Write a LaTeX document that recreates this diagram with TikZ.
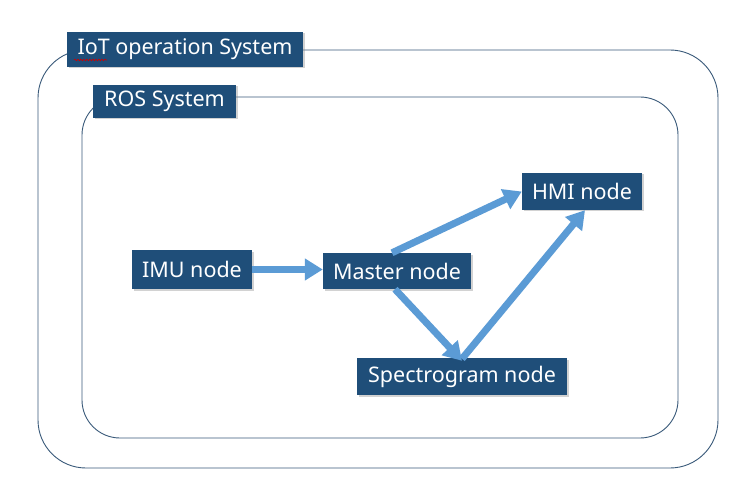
\documentclass[tikz,border=0pt]{standalone}
\usepackage{fontspec}
\setmainfont{Noto Sans}
\usetikzlibrary{arrows.meta,shadows,decorations.pathmorphing,calc}
\definecolor{boxblue}{HTML}{1F4E79}
\definecolor{arrowblue}{HTML}{5B9BD5}
\definecolor{frameblue}{HTML}{3A5A7A}
\begin{document}
\begin{tikzpicture}[x=1pt,y=-1pt,
  lbl/.style={fill=boxblue,text=white,inner sep=0pt,font=\fontsize{21.5}{23}\selectfont,
     drop shadow={shadow xshift=1.5pt,shadow yshift=-1.5pt,opacity=0.35}},
  frame/.style={draw=frameblue,line width=0.9pt},
  flow/.style={draw=arrowblue,line width=7pt,-{Triangle[length=18pt,width=21pt]}}]
\useasboundingbox[fill=white] (0,0) rectangle (737,484);
\draw[frame,rounded corners=48pt] (38,50) rectangle (718,468);
\draw[frame,rounded corners=38pt] (82,97) rectangle (678,438);
\node[lbl,minimum width=236pt,minimum height=35pt] (iot) at (185,49.5) {IoT operation System};
\node[lbl,minimum width=143pt,minimum height=33pt] (ros) at (164.5,101.5) {ROS System};
\node[lbl,minimum width=120pt,minimum height=39pt] (imu) at (192,269.5) {IMU node};
\node[lbl,minimum width=148pt,minimum height=36pt] (master) at (397,271) {Master node};
\node[lbl,minimum width=120pt,minimum height=37pt] (hmi) at (582,191.5) {HMI node};
\node[lbl,minimum width=210pt,minimum height=37pt] (spec) at (462,376.5) {Spectrogram node};
\coordinate (squigA) at (74,60);
\coordinate (squigB) at (107,60);
\draw[red!80!black,line width=0.6pt,decorate,decoration={snake,amplitude=0.8pt,segment length=3pt}] (squigA) -- (squigB);
\draw[flow] (imu.east) -- (imu.east -| master.west);
\draw[flow] ([xshift=-5pt]master.north) -- (hmi.west);
\draw[flow] ([xshift=-2pt]master.south) -- ([yshift=-3pt]spec.north);
\draw[flow] ([yshift=-1pt]spec.north) -- ([xshift=3pt]hmi.south);
\end{tikzpicture}
\end{document}
